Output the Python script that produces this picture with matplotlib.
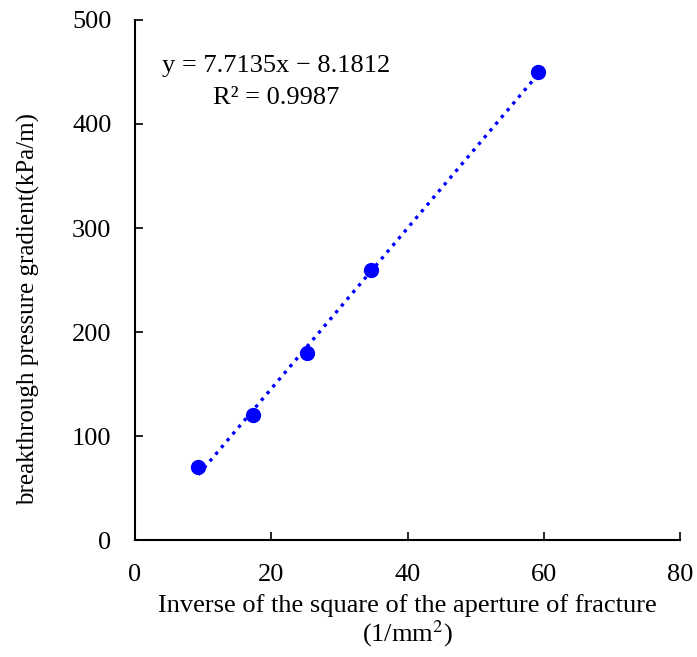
import numpy as np
import matplotlib
matplotlib.use("Agg")
import matplotlib.pyplot as plt

# ── data ──────────────────────────────────────────────────────────────────────
inv_aperture_sq = [9.3, 17.3, 25.2, 34.7, 59.2]      # 1/mm^2
pressure_grad = [70, 120, 180, 260, 450]              # kPa/m
x_ticks = [0, 20, 40, 60, 80]
y_ticks = [0, 100, 200, 300, 400, 500]

plt.rcParams['font.family'] = ['Liberation Serif', 'DejaVu Serif']
plt.rcParams['mathtext.fontset'] = 'stix'
FS = 19

fig = plt.figure(figsize=(6.97, 6.57), dpi=100)
ax = fig.add_axes([0.1937, 0.178, 0.7819, 0.7916])

# linear trendline through the points
slope, icpt = np.polyfit(inv_aperture_sq, pressure_grad, 1)
xs = np.array([min(inv_aperture_sq), max(inv_aperture_sq)])
ax.plot(xs, slope * xs + icpt, ':', color='#0000FF', linewidth=2.4, zorder=2)
ax.plot(inv_aperture_sq, pressure_grad, 'o', color='#0000FF', markersize=10, zorder=3)

ax.set_xlim(0, 80)
ax.set_ylim(0, 500)
ax.set_xticks(x_ticks)
ax.set_yticks(y_ticks)
ax.tick_params(direction='in', labelsize=FS, length=6, width=1.2, pad=17)
for side in ('top', 'right'):
    ax.spines[side].set_visible(False)
for side in ('left', 'bottom'):
    ax.spines[side].set_linewidth(1.5)

ax.set_xlabel("Inverse of the square of the aperture of fracture\n(1/mm$^2$)",
              fontsize=FS, labelpad=6, linespacing=1.05)
ax.set_ylabel("breakthrough pressure gradient(kPa/m)", fontsize=18)
ax.yaxis.set_label_coords(-0.174, 0.445)

ax.text(20.7, 440, "y = 7.7135x \u2212 8.1812\nR\u00b2 = 0.9987", fontsize=FS,
        ha='center', va='center', linespacing=1.6)

fig.savefig("out.png", dpi=100)
